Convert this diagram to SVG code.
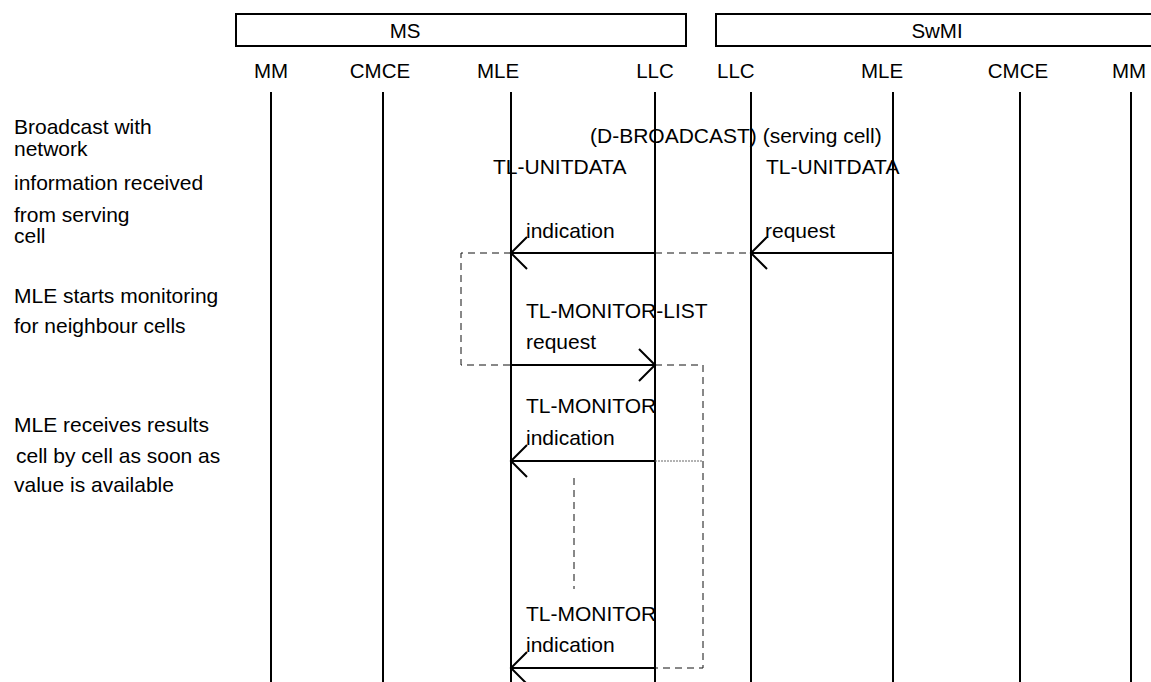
<svg xmlns="http://www.w3.org/2000/svg" width="1151" height="682" viewBox="0 0 1151 682">
<style>
  text { font-family: "Liberation Sans", Arial, sans-serif; font-size: 21px; fill: #000; }
  .hdr { font-size: 20.5px; }
  .mid { text-anchor: middle; }
  .box { fill: #fff; stroke: #000; stroke-width: 2; }
  .life { stroke: #000; stroke-width: 2; fill: none; }
  .msg { stroke: #000; stroke-width: 2; fill: none; marker-end: url(#arr); }
  .dash { stroke: #111; stroke-width: 1; fill: none; stroke-dasharray: 7 5; }
  .dot { stroke: #666; stroke-width: 1; fill: none; stroke-dasharray: 2 1; }
</style>
<defs>
  <marker id="arr" markerUnits="userSpaceOnUse" viewBox="-20 -20 40 40" markerWidth="40" markerHeight="40" refX="0" refY="0" orient="auto" overflow="visible">
    <path d="M-16,-16 L0,0 L-16,16" fill="none" stroke="#000" stroke-width="2"/>
  </marker>
</defs>
<rect width="1151" height="682" fill="#fff"/>

<g id="ms">
  <rect class="box" x="236" y="14" width="450" height="32"/>
  <text class="hdr mid" x="405" y="38">MS</text>
</g>
<g id="swmi">
  <rect class="box" x="716" y="14" width="445" height="32"/>
  <text class="hdr mid" x="937" y="38">SwMI</text>
</g>

<g id="ms-mm"><text class="hdr mid" x="271" y="78">MM</text><line class="life" x1="271" y1="92" x2="271" y2="682"/></g>
<g id="ms-cmce"><text class="hdr mid" x="380" y="78">CMCE</text><line class="life" x1="383" y1="92" x2="383" y2="682"/></g>
<g id="ms-mle"><text class="hdr mid" x="498" y="78">MLE</text><line class="life" x1="511" y1="92" x2="511" y2="682"/></g>
<g id="ms-llc"><text class="hdr mid" x="655" y="78">LLC</text><line class="life" x1="655" y1="92" x2="655" y2="682"/></g>
<g id="sw-llc"><text class="hdr" x="717" y="78">LLC</text><line class="life" x1="751" y1="92" x2="751" y2="682"/></g>
<g id="sw-mle"><text class="hdr mid" x="882" y="78">MLE</text><line class="life" x1="893" y1="92" x2="893" y2="682"/></g>
<g id="sw-cmce"><text class="hdr mid" x="1018" y="78">CMCE</text><line class="life" x1="1020" y1="92" x2="1020" y2="682"/></g>
<g id="sw-mm"><text class="hdr mid" x="1129" y="78">MM</text><line class="life" x1="1131" y1="92" x2="1131" y2="682"/></g>

<g id="notes">
  <text x="14" y="134">Broadcast with</text>
  <text x="14" y="156">network</text>
  <text x="14" y="190">information received</text>
  <text x="14" y="222">from serving</text>
  <text x="14" y="243">cell</text>
  <text x="14" y="303">MLE starts monitoring</text>
  <text x="14" y="333">for neighbour cells</text>
  <text x="14" y="432">MLE receives results</text>
  <text x="16" y="463">cell by cell as soon as</text>
  <text x="14" y="492">value is available</text>
</g>

<g id="connectors">
  <path class="dash" d="M655,253 H751"/>
  <path class="dash" d="M511,253 H461 V365 H511"/>
  <path class="dash" d="M655,365 H703 V668 H655"/>
  <path class="dot" d="M655,461 H703"/>
  <path class="dash" d="M574,478 V589"/>
  <line class="msg" x1="893" y1="253" x2="751" y2="253"/>
  <line class="msg" x1="655" y1="253" x2="511" y2="253"/>
  <line class="msg" x1="511" y1="365" x2="655" y2="365"/>
  <line class="msg" x1="655" y1="461" x2="511" y2="461"/>
  <line class="msg" x1="655" y1="668" x2="511" y2="668"/>
</g>

<g id="labels">
  <text x="590" y="143">(D-BROADCAST) (serving cell)</text>
  <text x="493" y="174">TL-UNITDATA</text>
  <text x="766" y="174">TL-UNITDATA</text>
  <text x="526" y="238">indication</text>
  <text x="765" y="238">request</text>
  <text x="526" y="318">TL-MONITOR-LIST</text>
  <text x="526" y="349">request</text>
  <text x="526" y="413">TL-MONITOR</text>
  <text x="526" y="445">indication</text>
  <text x="526" y="621">TL-MONITOR</text>
  <text x="526" y="652">indication</text>
</g>
</svg>
